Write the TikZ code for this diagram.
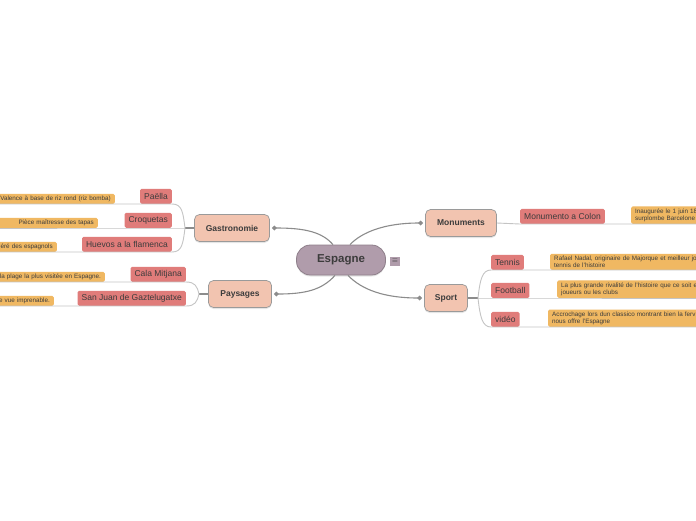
\documentclass[tikz,border=0pt]{standalone}
\usepackage{fontspec}
\setmainfont{Liberation Sans}
\usetikzlibrary{arrows.meta,positioning,calc,shadows}
\definecolor{EsMauve}{HTML}{B09CAB}
\definecolor{EsMauveEdge}{HTML}{8E7F8A}
\definecolor{EsSalmon}{HTML}{F2C4B0}
\definecolor{EsEdge}{HTML}{9A9A9A}
\definecolor{EsRed}{HTML}{E07C7A}
\definecolor{EsAmber}{HTML}{F0B862}
\definecolor{EsInk}{HTML}{3C3C3C}
\definecolor{EsTrunk}{HTML}{8C8C8C}
\definecolor{EsTwig}{HTML}{C4C4C4}
\tikzset{
  central/.style={draw=EsMauveEdge,line width=0.8pt,fill=EsMauve,rounded corners=14pt,
                  minimum width=89pt,minimum height=30pt,text=EsInk,
                  drop shadow={shadow xshift=0pt,shadow yshift=-1.5pt,opacity=0.2},
                  font=\fontsize{11.5}{14}\selectfont\bfseries},
  menuicon/.style={fill=EsMauve,minimum width=10pt,minimum height=9pt,inner sep=0pt,
                   text=EsInk,font=\fontsize{7}{7}\selectfont},
  topic/.style={draw=EsEdge,line width=0.7pt,fill=EsSalmon,rounded corners=5pt,
                minimum height=27pt,inner sep=0pt,text=EsInk,
                drop shadow={shadow xshift=0pt,shadow yshift=-1.5pt,opacity=0.2},
                font=\fontsize{8.5}{10}\selectfont\bfseries},
  leaf/.style={fill=EsRed,rounded corners=1.5pt,minimum height=15pt,inner xsep=4pt,
               inner ysep=0pt,text=EsInk,font=\fontsize{8.5}{10}\selectfont},
  note/.style={fill=EsAmber,rounded corners=1.5pt,inner xsep=4pt,inner ysep=2pt,
               text=EsInk,font=\fontsize{6.3}{7.4}\selectfont},
  noteleft/.style={note,text width=150pt,align=right},
  noteright/.style={note,text width=150pt,align=left},
  trunk/.style={EsTrunk,line width=1.2pt},
  mainlink/.style={EsTrunk,line width=1.1pt,-{Diamond[length=5pt,width=5pt]},shorten >=2pt},
  twig/.style={EsTwig,line width=0.9pt},
}
\begin{document}
\begin{tikzpicture}[x=1pt,y=-1pt]
  \useasboundingbox[fill=white] (0,0) rectangle (696,520);
  \clip (0,0) rectangle (696,520);
  % centre
  \node[central] (esp) at (341,260) {Espagne};
  \node[menuicon] (espmenu) at (395,261) {$\equiv$};
  % main topics
  \node[topic,minimum width=75pt] (gastro) at (232,228) {Gastronomie};
  \node[topic,minimum width=63pt] (pays) at (240,294) {Paysages};
  \node[topic,minimum width=71pt] (mon) at (461,223) {Monuments};
  \node[topic,minimum width=43pt] (sport) at (446,298) {Sport};
  \draw[mainlink] ($(esp.north)+(-8pt,0)$) .. controls (322,232) and (305,228) .. (gastro.east);
  \draw[mainlink] ($(esp.north)+(9pt,0)$) .. controls (362,232) and (385,223) .. (mon.west);
  \draw[mainlink] ($(esp.south)+(-6pt,0)$) .. controls (322,290) and (305,294) .. (pays.east);
  \draw[mainlink] ($(esp.south)+(7pt,0)$) .. controls (362,290) and (385,298) .. (sport.west);
  % gastronomie
  \coordinate (gastroj) at (185,228);
  \node[leaf,anchor=south east] (paella) at (172,204) {Paëlla};
  \node[leaf,anchor=south east] (croq) at (172,228) {Croquetas};
  \node[leaf,anchor=south east] (huevos) at (172,252) {Huevos a la flamenca};
  \node[noteleft,anchor=south east] (paellanote) at (115,204) {Valence à base de riz rond (riz bomba)};
  \node[noteleft,anchor=south east] (croqnote) at (98,228) {Pièce maîtresse des tapas};
  \node[noteleft,anchor=south east] (huevosnote) at (57,252) {éré des espagnols};
  \draw[trunk] (gastro.west) -- (gastroj);
  \draw[twig] (gastroj) .. controls (183,212) and (182,204) .. (paella.south east) -- (paellanote.south west);
  \draw[twig] (gastroj) -- (croq.south east) -- (croqnote.south west);
  \draw[twig] (gastroj) .. controls (183,244) and (182,252) .. (huevos.south east) -- (huevosnote.south west);
  % paysages
  \coordinate (paysj) at (199,294);
  \node[leaf,anchor=south east] (cala) at (186,282) {Cala Mitjana};
  \node[leaf,anchor=south east] (sanjuan) at (186,306) {San Juan de Gaztelugatxe};
  \node[noteleft,anchor=south east] (calanote) at (105,282) {la plage la plus visitée en Espagne.};
  \node[noteleft,anchor=south east] (sanjuannote) at (54,306) {e vue imprenable.};
  \draw[trunk] (pays.west) -- (paysj);
  \draw[twig] (paysj) .. controls (197,286) and (195,282) .. (cala.south east) -- (calanote.south west);
  \draw[twig] (paysj) .. controls (197,302) and (195,306) .. (sanjuan.south east) -- (sanjuannote.south west);
  % monuments
  \node[leaf,anchor=south west] (colon) at (520,224) {Monumento a Colon};
  \node[noteright,anchor=south west] (colonnote) at (631,224) {Inaugurée le 1 juin 18\\surplombe Barcelone};
  \draw[twig] (mon.east) -- (colon.south west) -- (colonnote.south east);
  % sport
  \coordinate (sportj) at (478,298);
  \node[leaf,anchor=south west] (tennis) at (491,270) {Tennis};
  \node[leaf,anchor=south west] (foot) at (491,298) {Football};
  \node[leaf,anchor=south west] (video) at (491,327) {vidéo};
  \node[noteright,anchor=south west] (tennisnote) at (550,270) {Rafael Nadal, originaire de Majorque et meilleur jo\\tennis de l'histoire};
  \node[noteright,anchor=south west] (footnote) at (557,298) {La plus grande rivalité de l'histoire que ce soit en\\joueurs ou les clubs};
  \node[noteright,anchor=south west] (videonote) at (548,327) {Accrochage lors dun classico montrant bien la ferv\\nous offre l'Espagne};
  \draw[trunk] (sport.east) -- (sportj);
  \draw[twig] (sportj) .. controls (480,280) and (482,270) .. (tennis.south west) -- (tennisnote.south east);
  \draw[twig] (sportj) -- (foot.south west) -- (footnote.south east);
  \draw[twig] (sportj) .. controls (480,316) and (482,327) .. (video.south west) -- (videonote.south east);
\end{tikzpicture}
\end{document}
